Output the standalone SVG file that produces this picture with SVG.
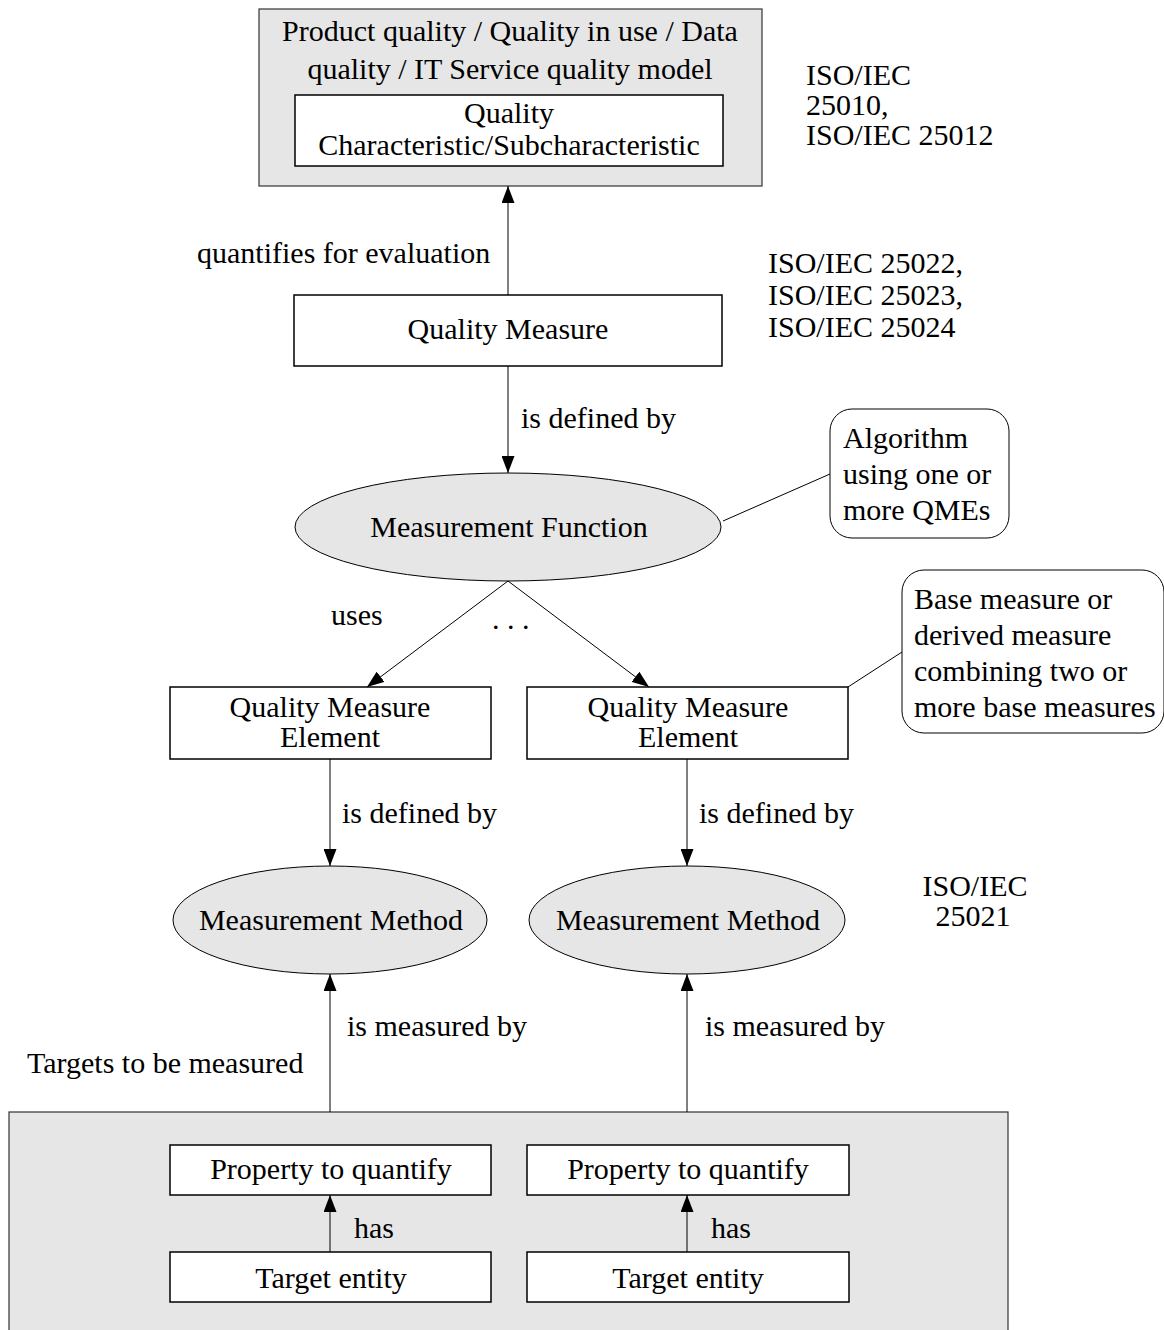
<svg xmlns="http://www.w3.org/2000/svg" width="1164" height="1330" viewBox="0 0 1164 1330">
  <style>
    text { font-family: "Liberation Serif", "Times New Roman", serif; font-size: 30px; fill: #000; }
    .c { text-anchor: middle; }
    .grey { fill: #e6e6e6; stroke: #333; stroke-width: 1.2; }
    .box { fill: #fff; stroke: #000; stroke-width: 1.5; }
    .ell { fill: #e6e6e6; stroke: #000; stroke-width: 1; }
    .note { fill: #fff; stroke: #000; stroke-width: 1; }
    .edge { fill: none; stroke: #000; stroke-width: 1; }
    .arr { marker-end: url(#head); }
  </style>
  <defs>
    <marker id="head" viewBox="0 0 17 13" refX="17" refY="6.5" markerWidth="17" markerHeight="13" markerUnits="userSpaceOnUse" orient="auto">
      <path d="M0,0 L17,6.5 L0,13 Z" fill="#000"/>
    </marker>
  </defs>

  <rect width="1164" height="1330" fill="#fff"/>

  <!-- quality model container -->
  <g id="quality-model">
    <rect class="grey" x="259" y="9" width="503" height="177"/>
    <text class="c" x="510" y="41">Product quality / Quality in use / Data</text>
    <text class="c" x="510" y="79">quality / IT Service quality model</text>
  </g>
  <g id="characteristic">
    <rect class="box" x="295" y="95" width="428" height="71"/>
    <text class="c" x="509" y="123">Quality</text>
    <text class="c" x="509" y="155">Characteristic/Subcharacteristic</text>
  </g>

  <g id="std-25010">
    <text x="806" y="85">ISO/IEC</text>
    <text x="806" y="115">25010,</text>
    <text x="806" y="145">ISO/IEC 25012</text>
  </g>

  <g id="quality-measure">
    <rect class="box" x="294" y="295" width="428" height="71"/>
    <text class="c" x="508" y="339">Quality Measure</text>
  </g>

  <g id="std-2502x">
    <text x="768" y="273">ISO/IEC 25022,</text>
    <text x="768" y="305">ISO/IEC 25023,</text>
    <text x="768" y="337">ISO/IEC 25024</text>
  </g>

  <g id="measurement-function">
    <ellipse class="ell" cx="508" cy="527" rx="213" ry="54"/>
    <text class="c" x="509" y="537">Measurement Function</text>
  </g>

  <g id="note-algorithm">
    <rect class="note" x="830" y="409" width="179" height="129" rx="22" ry="22"/>
    <text x="843" y="448">Algorithm</text>
    <text x="843" y="484">using one or</text>
    <text x="843" y="520">more QMEs</text>
  </g>

  <g id="note-base-measure">
    <rect class="note" x="902" y="570" width="262" height="163" rx="22" ry="22"/>
    <text x="914" y="609">Base measure or</text>
    <text x="914" y="645">derived measure</text>
    <text x="914" y="681">combining two or</text>
    <text x="914" y="717">more base measures</text>
  </g>

  <g id="qme-1">
    <rect class="box" x="170" y="687" width="321" height="72"/>
    <text class="c" x="330" y="717">Quality Measure</text>
    <text class="c" x="330" y="747">Element</text>
  </g>
  <g id="qme-2">
    <rect class="box" x="527" y="687" width="321" height="72"/>
    <text class="c" x="688" y="717">Quality Measure</text>
    <text class="c" x="688" y="747">Element</text>
  </g>

  <g id="method-1">
    <ellipse class="ell" cx="330" cy="920" rx="157" ry="54"/>
    <text class="c" x="331" y="930">Measurement Method</text>
  </g>
  <g id="method-2">
    <ellipse class="ell" cx="687" cy="920" rx="158" ry="54"/>
    <text class="c" x="688" y="930">Measurement Method</text>
  </g>

  <g id="std-25021">
    <text class="c" x="975" y="896">ISO/IEC</text>
    <text class="c" x="973" y="926">25021</text>
  </g>

  <!-- measurement targets container -->
  <g id="targets">
    <rect class="grey" x="9" y="1112" width="999" height="240"/>
    <text x="27" y="1073">Targets to be measured</text>
  </g>
  <g id="property-1">
    <rect class="box" x="170" y="1145" width="321" height="50"/>
    <text class="c" x="331" y="1179">Property to quantify</text>
  </g>
  <g id="property-2">
    <rect class="box" x="527" y="1145" width="322" height="50"/>
    <text class="c" x="688" y="1179">Property to quantify</text>
  </g>
  <g id="entity-1">
    <rect class="box" x="170" y="1252" width="321" height="50"/>
    <text class="c" x="331" y="1288">Target entity</text>
  </g>
  <g id="entity-2">
    <rect class="box" x="527" y="1252" width="322" height="50"/>
    <text class="c" x="688" y="1288">Target entity</text>
  </g>

  <!-- connectors and their labels -->
  <g id="connectors">
    <line class="edge arr" x1="508" y1="295" x2="508" y2="186"/>
    <text x="197" y="263">quantifies for evaluation</text>

    <line class="edge arr" x1="508" y1="366" x2="508" y2="473"/>
    <text x="521" y="428">is defined by</text>

    <line class="edge" x1="723" y1="521" x2="830" y2="474"/>
    <line class="edge" x1="848" y1="687" x2="902" y2="652"/>

    <line class="edge arr" x1="508" y1="581" x2="367" y2="687"/>
    <line class="edge arr" x1="508" y1="581" x2="649" y2="687"/>
    <text x="331" y="625">uses</text>
    <text x="492" y="629">. . .</text>

    <line class="edge arr" x1="330" y1="759" x2="330" y2="866"/>
    <text x="342" y="823">is defined by</text>
    <line class="edge arr" x1="687" y1="759" x2="687" y2="866"/>
    <text x="699" y="823">is defined by</text>

    <line class="edge arr" x1="330" y1="1112" x2="330" y2="974"/>
    <text x="347" y="1036">is measured by</text>
    <line class="edge arr" x1="687" y1="1112" x2="687" y2="974"/>
    <text x="705" y="1036">is measured by</text>

    <line class="edge arr" x1="330" y1="1252" x2="330" y2="1195"/>
    <text x="354" y="1238">has</text>
    <line class="edge arr" x1="687" y1="1252" x2="687" y2="1195"/>
    <text x="711" y="1238">has</text>
  </g>
</svg>
